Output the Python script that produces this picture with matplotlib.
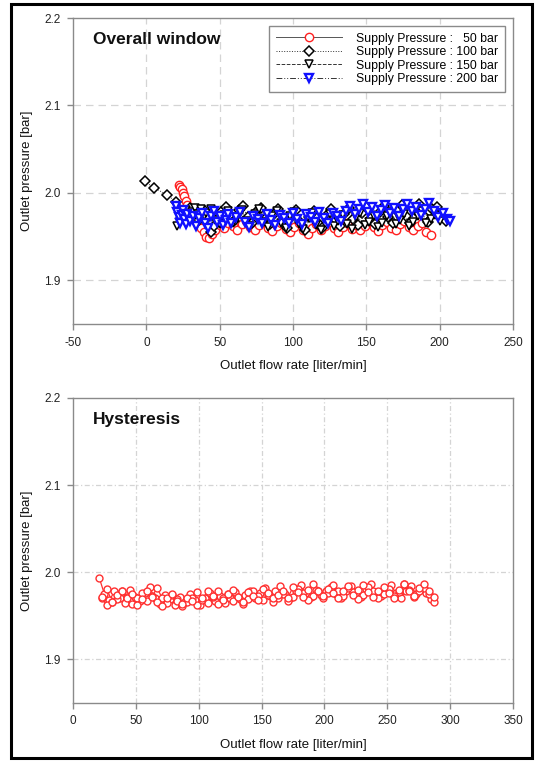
import matplotlib
matplotlib.use("Agg")
import matplotlib.pyplot as plt
from matplotlib.patches import Rectangle

plt.rcParams['font.family'] = ['Liberation Sans', 'DejaVu Sans']
plt.rcParams['axes.unicode_minus'] = False

# ---- Overall window data ----
x_50 = [22,23,24,25,26,27,28,29,31,33,35,37,39,41,43,45,47,50,53,56,59,62,65,68,71,74,77,80,83,86,89,92,95,98,101,104,107,110,113,116,119,122,125,128,131,134,137,140,143,146,149,152,155,158,161,164,167,170,173,176,179,182,185,188,191,194]
y_50 = [2.009,2.007,2.004,2.000,1.996,1.991,1.986,1.981,1.976,1.970,
        1.965,1.960,1.955,1.950,1.948,1.953,1.958,1.963,1.960,1.966,
        1.962,1.958,1.964,1.968,1.961,1.957,1.963,1.967,1.960,1.956,
        1.962,1.966,1.959,1.955,1.961,1.965,1.958,1.953,1.960,1.964,
        1.957,1.962,1.967,1.960,1.955,1.961,1.966,1.959,1.963,1.957,
        1.962,1.968,1.961,1.956,1.963,1.967,1.960,1.958,1.964,1.968,
        1.961,1.957,1.962,1.965,1.955,1.952]

x_100 = [-1,5,14,20,22,24,26,28,30,32,34,36,38,40,42,44,46,48,51,54,57,60,63,66,69,72,75,78,81,84,87,90,93,96,99,102,105,108,111,114,117,120,123,126,129,132,135,138,141,144,147,150,153,156,159,162,165,168,171,174,177,180,183,186,189,192,195,198,201,204]
y_100 = [2.013,2.006,1.998,1.990,1.982,1.976,1.971,1.978,1.983,1.975,
         1.980,1.969,1.974,1.979,1.972,1.955,1.962,1.970,1.978,1.984,
         1.975,1.968,1.980,1.985,1.972,1.966,1.978,1.983,1.970,1.964,
         1.976,1.982,1.968,1.960,1.974,1.980,1.967,1.958,1.972,1.979,
         1.966,1.960,1.975,1.981,1.969,1.962,1.976,1.983,1.970,1.963,
         1.977,1.984,1.971,1.964,1.978,1.985,1.972,1.965,1.979,1.986,
         1.973,1.966,1.980,1.987,1.974,1.967,1.981,1.984,1.975,1.968]

x_150 = [21,23,25,27,29,31,33,35,37,39,41,44,47,50,53,56,59,62,65,68,71,74,77,80,83,86,89,92,95,98,101,104,107,110,113,116,119,122,125,128,131,134,137,140,143,146,149,152,155,158,161,164,167,170,173,176,179,182,185,188,191,194,197,200]
y_150 = [1.962,1.968,1.975,1.980,1.972,1.978,1.983,1.976,1.981,1.974,
         1.977,1.982,1.969,1.964,1.975,1.979,1.966,1.971,1.980,1.968,
         1.962,1.976,1.981,1.967,1.961,1.974,1.979,1.965,1.960,1.973,
         1.978,1.964,1.959,1.972,1.977,1.963,1.958,1.971,1.976,1.962,
         1.968,1.975,1.964,1.959,1.972,1.977,1.963,1.967,1.974,1.961,
         1.966,1.973,1.978,1.964,1.969,1.976,1.962,1.967,1.974,1.979,
         1.965,1.970,1.975,1.968]

x_200 = [20,21,22,23,24,25,26,27,28,30,32,34,36,38,40,42,44,46,48,50,52,54,56,58,61,64,67,70,73,76,79,82,85,88,91,94,97,100,103,106,109,112,115,118,121,124,127,130,133,136,139,142,145,148,151,154,157,160,163,166,169,172,175,178,181,184,187,190,193,196,199,202,205,207]
y_200 = [1.985,1.978,1.972,1.966,1.975,1.980,1.970,1.964,1.976,1.968,
         1.974,1.962,1.971,1.977,1.966,1.960,1.973,1.979,1.967,1.974,
         1.963,1.969,1.976,1.965,1.972,1.978,1.967,1.961,1.974,1.970,
         1.965,1.976,1.969,1.963,1.975,1.971,1.966,1.977,1.970,1.964,
         1.976,1.972,1.967,1.978,1.971,1.965,1.977,1.973,1.968,1.979,
         1.985,1.976,1.982,1.987,1.978,1.984,1.974,1.980,1.986,1.977,
         1.983,1.973,1.981,1.987,1.979,1.984,1.975,1.982,1.988,1.979,
         1.972,1.977,1.970,1.968]

labels = ["Supply Pressure :   50 bar", "Supply Pressure : 100 bar",
          "Supply Pressure : 150 bar", "Supply Pressure : 200 bar"]

# ---- Hysteresis data ----
x_up = [21,25,29,33,37,41,45,49,53,57,61,65,69,73,77,81,85,89,93,97,101,105,109,113,117,121,125,129,133,137,141,145,149,153,157,161,165,169,173,177,181,185,189,193,197,201,205,209,213,217,221,225,229,233,237,241,245,249,253,257,261,265,269,273,277,281,285]
y_up = [1.993,1.975,1.968,1.978,1.971,1.965,1.980,1.972,1.967,1.976,
        1.983,1.970,1.964,1.974,1.969,1.962,1.972,1.966,1.975,1.968,
        1.963,1.971,1.976,1.967,1.973,1.965,1.970,1.977,1.969,1.974,
        1.979,1.971,1.976,1.982,1.973,1.978,1.984,1.975,1.970,1.979,
        1.985,1.976,1.972,1.980,1.974,1.978,1.983,1.975,1.971,1.979,
        1.984,1.976,1.972,1.981,1.986,1.977,1.973,1.980,1.985,1.976,
        1.971,1.979,1.984,1.975,1.981,1.976,1.969]
x_down = [287,283,279,275,271,267,263,259,255,251,247,243,239,235,231,227,223,219,215,211,207,203,199,195,191,187,183,179,175,171,167,163,159,155,151,147,143,139,135,131,127,123,119,115,111,107,103,99,95,91,87,83,79,75,71,67,63,59,55,51,47,43,39,35,31,27,23]
y_down = [1.966,1.975,1.982,1.978,1.972,1.980,1.986,1.977,1.973,1.981,
          1.975,1.970,1.978,1.983,1.974,1.969,1.977,1.982,1.973,1.979,
          1.985,1.976,1.971,1.979,1.973,1.968,1.976,1.981,1.972,1.967,
          1.975,1.970,1.966,1.974,1.968,1.973,1.978,1.969,1.964,1.972,
          1.967,1.975,1.970,1.964,1.972,1.978,1.968,1.963,1.971,1.966,
          1.961,1.969,1.974,1.965,1.970,1.982,1.973,1.967,1.976,1.971,
          1.964,1.972,1.979,1.969,1.966,1.962,1.970]
x_up2 = [23,27,31,35,39,43,47,51,55,59,63,67,71,75,79,83,87,91,95,99,103,107,111,115,119,123,127,131,135,139,143,147,151,155,159,163,167,171,175,179,183,187,191,195,199,203,207,211,215,219,223,227,231,235,239,243,247,251,255,259,263,267,271,275,279,283,287]
y_up2 = [1.972,1.981,1.966,1.974,1.978,1.970,1.975,1.963,1.969,1.979,
         1.972,1.966,1.961,1.970,1.975,1.967,1.964,1.971,1.967,1.977,
         1.970,1.965,1.973,1.979,1.968,1.975,1.980,1.972,1.966,1.977,
         1.973,1.968,1.981,1.976,1.970,1.974,1.979,1.971,1.983,1.977,
         1.972,1.980,1.987,1.978,1.973,1.981,1.976,1.970,1.979,1.984,
         1.974,1.980,1.985,1.977,1.972,1.979,1.983,1.976,1.971,1.980,
         1.986,1.978,1.973,1.982,1.987,1.978,1.972]

W, H = 539, 761
fig = plt.figure(figsize=(W/100, H/100), dpi=100)

spine_c = '#8a8a8a'
grid_c = '#d4d4d4'

def style_axes(ax, xlim, xticks):
    ax.set_xlim(*xlim)
    ax.set_ylim(1.85, 2.2)
    ax.set_xticks(xticks)
    ax.set_yticks([1.9, 2.0, 2.1, 2.2])
    ax.set_yticklabels(['1.9', '2.0', '2.1', '2.2'])
    for s in ax.spines.values():
        s.set_color(spine_c)
        s.set_linewidth(1.0)
    ax.tick_params(direction='out', length=4, width=1, color=spine_c,
                   labelsize=8.5, labelcolor='#222222', pad=5)
    ax.set_ylabel('Outlet pressure [bar]', fontsize=9.5, color='#111111', labelpad=8)
    ax.set_xlabel('Outlet flow rate [liter/min]', fontsize=9.5, color='#111111', labelpad=8)

# top axes
ax1 = fig.add_axes([73/W, 1-324/H, 440/W, 306/H])
style_axes(ax1, (-50, 250), [-50, 0, 50, 100, 150, 200, 250])
for xv in [0, 50, 100, 150, 200]:
    ax1.axvline(xv, color=grid_c, lw=0.9, ls=(0, (6, 4)), zorder=0)
for yv in [1.9, 2.0, 2.1]:
    ax1.axhline(yv, color=grid_c, lw=0.9, ls=(0, (6, 4)), zorder=0)

ms = 6
ax1.plot(x_100, y_100, color='#333333', lw=0.7, ls=':', marker='D', ms=5.5,
         mfc='white', mec='black', mew=1.1, label=labels[1], zorder=3)
ax1.plot(x_150, y_150, color='#333333', lw=0.7, ls='--', marker='v', ms=ms,
         mfc='white', mec='black', mew=1.1, label=labels[2], zorder=4)
ax1.plot(x_50, y_50, color='#555555', lw=0.7, ls='-', marker='o', ms=ms,
         mfc='white', mec='#ff2020', mew=1.0, label=labels[0], zorder=2)
ax1.plot(x_200, y_200, color='#333333', lw=0.7, ls=(0, (6, 2, 1, 2, 1, 2)), marker='v', ms=ms,
         mfc='white', mec='#1010ff', mew=1.7, label=labels[3], zorder=5)

h, l = ax1.get_legend_handles_labels()
order = [2, 0, 1, 3]
leg = ax1.legend([h[i] for i in order], [l[i] for i in order],
                 loc='upper right', bbox_to_anchor=(0.982, 0.974),
                 fontsize=8.8, frameon=True, fancybox=False, framealpha=1,
                 edgecolor='#8a8a8a', handlelength=5.4, handletextpad=1.2,
                 borderpad=0.55, labelspacing=0.12, borderaxespad=0)
leg.get_frame().set_linewidth(1.0)

ax1.text(0.045, 0.93, 'Overall window', transform=ax1.transAxes,
         fontsize=12.5, fontweight='bold', va='center', ha='left', color='#111111')

# bottom axes
ax2 = fig.add_axes([73/W, 1-703/H, 440/W, 305/H])
style_axes(ax2, (0, 350), [0, 50, 100, 150, 200, 250, 300, 350])
for xv in [50, 100, 150, 200, 250, 300]:
    ax2.axvline(xv, color=grid_c, lw=0.9, ls=(0, (4, 2, 1, 2)), zorder=0)
for yv in [1.9, 2.0, 2.1]:
    ax2.axhline(yv, color=grid_c, lw=0.9, ls=(0, (4, 2, 1, 2)), zorder=0)

ax2.plot(x_up + x_down + x_up2, y_up + y_down + y_up2, color='#ff3030', lw=0.9,
         marker='o', ms=5, mfc='white', mec='#ff3030', mew=1.0, zorder=3)

ax2.text(0.045, 0.93, 'Hysteresis', transform=ax2.transAxes,
         fontsize=12.5, fontweight='bold', va='center', ha='left', color='#111111')

# outer frame
fig.patches.append(Rectangle((10.5/W, 1-758/H), 521/W, 754/H, transform=fig.transFigure,
                             fill=False, edgecolor='black', lw=2.2, zorder=10))

fig.savefig('out.png', dpi=100, facecolor='white')
